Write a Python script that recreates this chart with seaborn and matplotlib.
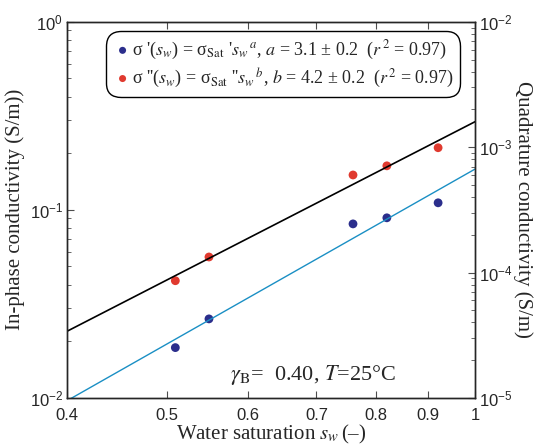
import numpy as np
import pandas as pd
import matplotlib
matplotlib.use("Agg")
import matplotlib.pyplot as plt
import matplotlib.ticker as mticker
import seaborn as sns

# datos
sw = [0.51, 0.55, 0.76, 0.82, 0.92]
sigma_in = [0.0185, 0.0263, 0.0842, 0.0907, 0.109]          # S/m (eje izq.)
sigma_quad = [8.6e-5, 1.33e-4, 6.0e-4, 7.1e-4, 9.9e-4]      # S/m (eje der.)

# rectas de ajuste (extremos leidos)
fit_x = [0.4, 1.0]
fit_in = [0.00966, 0.165]
fit_quad = [3.4e-5, 1.6e-3]

x_ticks = [0.4, 0.5, 0.6, 0.7, 0.8, 0.9, 1.0]
x_labels = ["0.4", "0.5", "0.6", "0.7", "0.8", "0.9", "1"]

lab_in = "σ '($s_w$) = σ$_{\\rm Sat}$ '$s_w{}^{\\,a}$, $a$ = 3.1 ± 0.2  ($r^{\\,2}$ = 0.97)"
lab_quad = "σ ''($s_w$) = σ$_{\\rm Sat}$ ''$s_w{}^{\\,b}$, $b$ = 4.2 ± 0.2  ($r^{\\,2}$ = 0.97)"

df = pd.DataFrame({"sw": sw, "sin": sigma_in, "squad": sigma_quad})
df_fit = pd.DataFrame({"x": fit_x, "fin": fit_in, "fquad": fit_quad})

sns.set_style("ticks")
plt.rcParams["font.family"] = ["Liberation Sans", "DejaVu Sans"]
plt.rcParams["mathtext.fontset"] = "stix"

blue = "#2b2e8c"
red = "#e03a2f"
cyan = "#1a8fc4"

fig = plt.figure(figsize=(5.37, 4.46), dpi=100)
ax = fig.add_axes([0.125, 0.108, 0.760, 0.843])
ax2 = ax.twinx()

# eje izquierdo: conductividad en fase
sns.lineplot(data=df_fit, x="x", y="fin", ax=ax, color=cyan, lw=1.0, legend=False)
sns.scatterplot(data=df, x="sw", y="sin", ax=ax, color=blue, s=40, edgecolor="none",
                label=lab_in, legend=False)

# eje derecho: conductividad en cuadratura
sns.lineplot(data=df_fit, x="x", y="fquad", ax=ax2, color="black", lw=1.2, legend=False)
sns.scatterplot(data=df, x="sw", y="squad", ax=ax2, color=red, s=40, edgecolor="none",
                label=lab_quad, legend=False)

ax.set_xscale("log")
ax.set_yscale("log")
ax2.set_yscale("log")
ax.set_xlim(0.4, 1.0)
ax.set_ylim(1e-2, 1)
ax2.set_ylim(1e-5, 1e-2)

ax.xaxis.set_major_locator(mticker.FixedLocator(x_ticks))
ax.xaxis.set_major_formatter(mticker.FixedFormatter(x_labels))
ax.xaxis.set_minor_locator(mticker.NullLocator())

for a in (ax, ax2):
    a.tick_params(which="major", direction="in", length=5, width=0.8, labelsize=12, color="0.3")
    a.tick_params(which="minor", direction="in", length=3, width=0.6, color="0.3")
    for sp in a.spines.values():
        sp.set_linewidth(1.0)
        sp.set_visible(True)
ax.tick_params(axis="x", top=True, pad=7)
ax.tick_params(axis="y", pad=3)
ax2.tick_params(axis="y", pad=3)

ax.set_xlabel(r"Water saturation $s_w\,$(–)", fontsize=15, family="Liberation Serif", labelpad=0)
ax.set_ylabel("In-phase conductivity (S/m))", fontsize=15, family="Liberation Serif", labelpad=3)
ax2.set_ylabel("Quadrature conductivity (S/m)", fontsize=15, family="Liberation Serif",
               rotation=270, labelpad=14)

ax2.text(0.40, 0.028, r"$\gamma_{\rm B}$=  0.40, $T$=25°C", transform=ax.transAxes,
         fontsize=16, family="Liberation Serif", ha="left", va="bottom")

h1, l1 = ax.get_legend_handles_labels()
h2, l2 = ax2.get_legend_handles_labels()
leg = ax2.legend(h1 + h2, l1 + l2, loc="upper right", bbox_to_anchor=(0.955, 0.965),
                 prop={"family": "Liberation Serif", "size": 13}, frameon=True,
                 fancybox=True, edgecolor="black", framealpha=1,
                 handletextpad=0.0, handlelength=1.0, markerscale=0.8,
                 borderpad=0.2, labelspacing=0.25, borderaxespad=0)
leg.get_frame().set_linewidth(1.0)
leg.get_frame().set_boxstyle("round,pad=0.2,rounding_size=0.8")

fig.savefig("out.png", dpi=100)
